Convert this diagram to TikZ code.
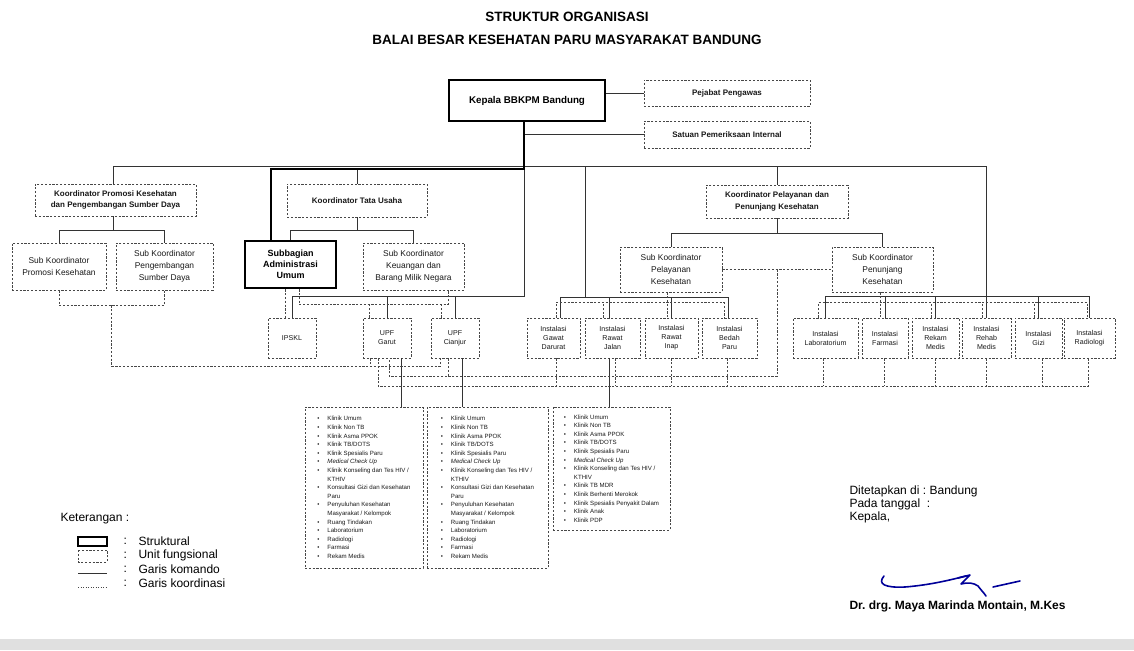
\documentclass[tikz,border=0pt]{standalone}
\usepackage{fontspec}
\setmainfont{Liberation Sans}
\usetikzlibrary{calc}
\frenchspacing
\newcommand\fTitle{\fontsize{13.5}{15}\selectfont\bfseries}
\newcommand\fKep{\fontsize{9.8}{12}\selectfont\bfseries}
\newcommand\fSB{\fontsize{8}{11.5}\selectfont\bfseries}
\newcommand\fSub{\fontsize{8.4}{12}\selectfont}
\newcommand\fSubB{\fontsize{9}{11}\selectfont\bfseries}
\newcommand\fInst{\fontsize{7.1}{9}\selectfont}
\newcommand\fList{\fontsize{6.1}{8.6}\selectfont}
\newcommand\fLeg{\fontsize{12}{13.5}\selectfont}
\newcommand\li[1]{\makebox[10pt][l]{\textbullet}#1}
\newcommand\lc[1]{\hspace*{10pt}#1}
\tikzset{
  ln/.style={line width=0.8pt, draw=black!80},
  thk/.style={line width=2.6pt, draw=black},
  dsh/.style={line width=0.75pt, draw=black!72, dash pattern=on 2.2pt off 1.6pt},
  fbox/.style={dsh, align=center, inner sep=1pt, text=black!90},
  sbox/.style={thk, align=center, inner sep=1pt},
  sig/.style={line width=1.6pt, draw=blue!60!black, line cap=round, line join=round},
}
\begin{document}
\begin{tikzpicture}[x=1pt,y=-1pt]
\useasboundingbox (0,0) rectangle (1134,650);
\fill[white] (0,0) rectangle (1134,650);
\fill[black!12] (0,639) rectangle (1134,650);

% titles
\node[font=\fTitle] (t1) at (567,17) {STRUKTUR ORGANISASI};
\node[font=\fTitle] (t2) at (567,40) {BALAI BESAR KESEHATAN PARU MASYARAKAT BANDUNG};

% top
\node[sbox, minimum width=156pt, minimum height=41pt, font=\fKep] (kep) at (527,100.5) {Kepala BBKPM Bandung};
\node[fbox, minimum width=166pt, minimum height=26pt, font=\fSB] (pej) at (727,93) {Pejabat Pengawas};
\node[fbox, minimum width=166pt, minimum height=27pt, font=\fSB] (spi) at (727,134.5) {Satuan Pemeriksaan Internal};

% koordinator
\node[fbox, minimum width=161pt, minimum height=32pt, font=\fSB] (kprom) at (115.5,200) {Koordinator Promosi Kesehatan\\dan Pengembangan Sumber Daya};
\node[fbox, minimum width=140pt, minimum height=33pt, font=\fSB] (ktu) at (357,200.5) {Koordinator Tata Usaha};
\node[fbox, minimum width=142pt, minimum height=33pt, font=\fSB] (kpel) at (777,201.5) {Koordinator Pelayanan dan\\Penunjang Kesehatan};

% sub koordinator
\node[fbox, minimum width=94pt, minimum height=47pt, font=\fSub] (sprom) at (59,266.5) {Sub Koordinator\\Promosi Kesehatan};
\node[fbox, minimum width=97pt, minimum height=47pt, font=\fSub] (speng) at (164.5,266.5) {Sub Koordinator\\Pengembangan\\Sumber Daya};
\node[sbox, minimum width=91pt, minimum height=47pt, font=\fSubB] (sba) at (290.5,264.5) {Subbagian\\Administrasi\\Umum};
\node[fbox, minimum width=101pt, minimum height=47pt, font=\fSub] (keu) at (413.5,266.5) {Sub Koordinator\\Keuangan dan\\Barang Milik Negara};
\node[fbox, minimum width=102pt, minimum height=45pt, font=\fSub] (spel) at (671,269.5) {Sub Koordinator\\Pelayanan\\Kesehatan};
\node[fbox, minimum width=101pt, minimum height=45pt, font=\fSub] (spen) at (882.5,269.5) {Sub Koordinator\\Penunjang\\Kesehatan};

% instalasi row
\node[fbox, minimum width=48pt, minimum height=40pt, font=\fInst] (ipskl) at (292,338) {IPSKL};
\node[fbox, minimum width=48pt, minimum height=40pt, font=\fInst] (gar) at (387,338) {UPF\\Garut};
\node[fbox, minimum width=48pt, minimum height=40pt, font=\fInst] (cia) at (455,338) {UPF\\Cianjur};
\node[fbox, minimum width=53pt, minimum height=40pt, font=\fInst] (gd) at (553.5,338) {Instalasi\\Gawat\\Darurat};
\node[fbox, minimum width=55pt, minimum height=40pt, font=\fInst] (rj) at (612.5,338) {Instalasi\\Rawat\\Jalan};
\node[fbox, minimum width=53pt, minimum height=40pt, font=\fInst] (ri) at (671.5,338) {Instalasi\\Rawat\\Inap};
\node[fbox, minimum width=55pt, minimum height=40pt, font=\fInst] (bp) at (729.5,338) {Instalasi\\Bedah\\Paru};
\node[fbox, minimum width=65pt, minimum height=40pt, font=\fInst] (lab) at (825.5,338) {Instalasi\\Laboratorium};
\node[fbox, minimum width=46pt, minimum height=40pt, font=\fInst] (far) at (885,338) {Instalasi\\Farmasi};
\node[fbox, minimum width=47pt, minimum height=40pt, font=\fInst] (rek) at (935.5,338) {Instalasi\\Rekam\\Medis};
\node[fbox, minimum width=49pt, minimum height=40pt, font=\fInst] (reh) at (986.5,338) {Instalasi\\Rehab\\Medis};
\node[fbox, minimum width=47pt, minimum height=40pt, font=\fInst] (giz) at (1038.5,338) {Instalasi\\Gizi};
\node[fbox, minimum width=51pt, minimum height=40pt, font=\fInst] (rad) at (1089.5,338) {Instalasi\\Radiologi};

% lists
\node[fbox, minimum width=118pt, minimum height=161pt, font=\fList, align=left] (lst1) at (364,487.5) {%
\li{Klinik Umum}\\ \li{Klinik Non TB}\\ \li{Klinik Asma PPOK}\\ \li{Klinik TB/DOTS}\\
\li{Klinik Spesialis Paru}\\ \li{\textit{Medical Check Up}}\\ \li{Klinik Konseling dan Tes HIV /}\\ \lc{KTHIV}\\
\li{Konsultasi Gizi dan Kesehatan}\\ \lc{Paru}\\ \li{Penyuluhan Kesehatan}\\ \lc{Masyarakat / Kelompok}\\
\li{Ruang Tindakan}\\ \li{Laboratorium}\\ \li{Radiologi}\\ \li{Farmasi}\\ \li{Rekam Medis}};
\node[fbox, minimum width=121pt, minimum height=161pt, font=\fList, align=left] (lst2) at (487.5,487.5) {%
\li{Klinik Umum}\\ \li{Klinik Non TB}\\ \li{Klinik Asma PPOK}\\ \li{Klinik TB/DOTS}\\
\li{Klinik Spesialis Paru}\\ \li{\textit{Medical Check Up}}\\ \li{Klinik Konseling dan Tes HIV /}\\ \lc{KTHIV}\\
\li{Konsultasi Gizi dan Kesehatan}\\ \lc{Paru}\\ \li{Penyuluhan Kesehatan}\\ \lc{Masyarakat / Kelompok}\\
\li{Ruang Tindakan}\\ \li{Laboratorium}\\ \li{Radiologi}\\ \li{Farmasi}\\ \li{Rekam Medis}};
\node[fbox, minimum width=117pt, minimum height=123pt, font=\fList, align=left] (lst3) at (611.5,468.5) {%
\li{Klinik Umum}\\ \li{Klinik Non TB}\\ \li{Klinik Asma PPOK}\\ \li{Klinik TB/DOTS}\\
\li{Klinik Spesialis Paru}\\ \li{\textit{Medical Check Up}}\\ \li{Klinik Konseling dan Tes HIV /}\\ \lc{KTHIV}\\
\li{Klinik TB MDR}\\ \li{Klinik Berhenti Merokok}\\ \li{Klinik Spesialis Penyakit Dalam}\\ \li{Klinik Anak}\\ \li{Klinik PDP}};

% ---------- command lines ----------
\coordinate (thkR) at (524,169);
\coordinate (thkL) at (271,169);
\coordinate (hL) at (113,166);
\coordinate (g1) at (585,166);
\coordinate (b1) at (0,298);
\coordinate (b2) at (0,296);
\coordinate (iH) at (524,296);

\draw[ln] (kep.east |- pej.west) -- (pej.west);
\draw[ln] (spi.west -| thkR) -- (spi.west);
\draw[ln] (hL) -- (reh.north |- hL) -- (reh.north);
\draw[ln] (hL) -- (hL |- kprom.north);
\draw[ln] (kpel.north |- hL) -- (kpel.north);
\draw[ln] (ktu.north |- thkL) -- (ktu.north);
\draw[ln] (g1) -- (g1 |- b1);
\draw[ln] (thkR) -- (iH) -- (ipskl.north |- iH) -- (ipskl.north);
\draw[ln] (gar.north |- iH) -- (gar.north);
\draw[ln] (cia.north |- iH) -- (cia.north);
\draw[thk] (kep.south -| thkR) -- (thkR) -- (thkL) -- (thkL |- sba.north);

% branches
\draw[ln] (kprom.south -| hL) -- ++(0,14) coordinate (kpB);
\draw[ln] (sprom.north) |- (kpB) -| (speng.north);
\draw[ln] (ktu.south) -- ++(0,13) coordinate (ktB);
\draw[ln] (sba.north) |- (ktB) -| (keu.north);
\draw[ln] (kpel.south) -- ++(0,15) coordinate (kpB2);
\draw[ln] (spel.north) |- (kpB2) -| (spen.north);

% group 1
\draw[ln] ($(gd.north)+(6.5,0)$) -- ++(0,-20) -| ($(bp.north)+(-1.5,0)$);
\draw[ln] ($(rj.north)+(-3.5,0)$) -- ++(0,-20);
\draw[ln] (ri.north) -- ++(0,-20);
% group 2
\draw[ln] (lab.north |- b2) -- (rad.north |- b2);
\foreach \n in {lab,far,rek,giz,rad} \draw[ln] (\n.north |- b2) -- (\n.north);

% to lists
\coordinate (gs) at ($(gar.south)+(14,0)$);
\draw[ln] (gs) -- (gs |- lst1.north);
\coordinate (cs) at ($(cia.south)+(7,0)$);
\draw[ln] (cs) -- (cs |- lst2.north);
\coordinate (rjs) at ($(rj.south)+(-3.5,0)$);
\draw[ln] (rjs) -- (rjs |- lst3.north);

% ---------- coordination lines ----------
\draw[dsh] (sprom.south) -- ++(0,15) -| (speng.south);
\coordinate (lm) at ($(sprom.south)!0.5!(speng.south)+(0,15)$);
\coordinate (cb) at ($(cia.south)+(-15,0)$);
\draw[dsh] (lm) |- ($(cb)+(0,8)$) -- (cb);
\draw[dsh] ($(gar.south)+(-17,0)$) -- ++(0,8);

\coordinate (sd1) at ($(sba.south)+(-5.5,0)$);
\draw[dsh] (sd1) -- (sd1 |- ipskl.north);
\coordinate (kd) at ($(keu.south)+(34.5,0)$);
\draw[dsh] ($(sba.south)+(8.5,0)$) -- ++(0,15) -| (kd);
\draw[dsh] ($(gar.north)+(-18,0)$) -- ++(0,-14);
\draw[dsh] ($(cia.north)+(-14,0)$) -- ++(0,-14);

\draw[dsh] (spel.east) -- (spen.west);
\coordinate (lk) at ($(spel.east)!0.5!(spen.west)$);
\draw[dsh] (lk) |- ($(gar.south)+(2,18)$) -- ($(gar.south)+(2,0)$);
\draw[dsh] ($(cia.south)+(-7,0)$) -- ++(0,18);

\draw[dsh] ($(gar.south)+(-9,0)$) -- ++(0,28) -| ($(rad.south)+(-1.5,0)$);
\foreach \n/\o in {gd/2.5,rj/2.5,ri/0,bp/-2.5,lab/-2.5,far/-1,rek/0,reh/0,giz/3.5}
  \draw[dsh] ($(\n.south)+(\o,0)$) -- ++(0,28);

\draw[dsh] ($(gd.north)+(2.5,0)$) -- ++(0,-15) -| ($(bp.north)+(-5.5,0)$);
\draw[dsh] ($(rj.north)+(-9.5,0)$) -- ++(0,-15);
\coordinate (sp1) at ($(spel.south)+(-4,0)$);
\draw[dsh] (sp1) -- (sp1 |- ri.north);

\draw[dsh] ($(lab.north)+(-7,0)$) -- ++(0,-15) -| ($(rad.north)+(-2,0)$);
\coordinate (fd) at ($(far.north)+(-5,0)$);
\draw[dsh] (fd |- spen.south) -- (fd);
\foreach \n in {rek,reh,giz} \draw[dsh] ($(\n.north)+(-4,0)$) -- ++(0,-15);

% ---------- legend ----------
\node[anchor=west, font=\fLeg] (ket) at (57,519) {Keterangan :};
\draw[thk, line width=2.2pt] (78,537) rectangle (107,546);
\draw[dsh] (78,550) rectangle (107,562);
\draw[ln] (78,573) -- (107,573);
\draw[dsh, dash pattern=on 1.2pt off 1.3pt] (78,587) -- (107,587);
\node[anchor=west, font=\fLeg] (c1) at (120,541) {:};
\node[anchor=west, font=\fLeg] (c2) at (120,555) {:};
\node[anchor=west, font=\fLeg] (c3) at (120,569) {:};
\node[anchor=west, font=\fLeg] (c4) at (120,583) {:};
\node[anchor=west, font=\fLeg] (l1) at (135,541) {Struktural};
\node[anchor=west, font=\fLeg] (l2) at (135,555) {Unit fungsional};
\node[anchor=west, font=\fLeg] (l3) at (135,569) {Garis komando};
\node[anchor=west, font=\fLeg] (l4) at (135,583) {Garis koordinasi};

% ---------- signature ----------
\node[anchor=west, font=\fLeg] (s1) at (846,491) {Ditetapkan di : Bandung};
\node[anchor=west, font=\fLeg] (s2) at (846,504) {Pada tanggal\ \ :};
\node[anchor=west, font=\fLeg] (s3) at (846,517) {Kepala,};
\draw[sig] (884,576) .. controls (877,584) and (885,588) .. (905,587) .. controls (930,585) and (950,580) .. (966,576);
\draw[sig] (958,578) -- (970,575) -- (961,584) .. controls (968,582) and (974,583) .. (978,586) .. controls (981,590) and (984,593) .. (986,596);
\draw[sig] (993,587) -- (1020,581);
\node[anchor=west, font=\fLeg\bfseries] (nm) at (846,606) {Dr. drg. Maya Marinda Montain, M.Kes};
\end{tikzpicture}
\end{document}
